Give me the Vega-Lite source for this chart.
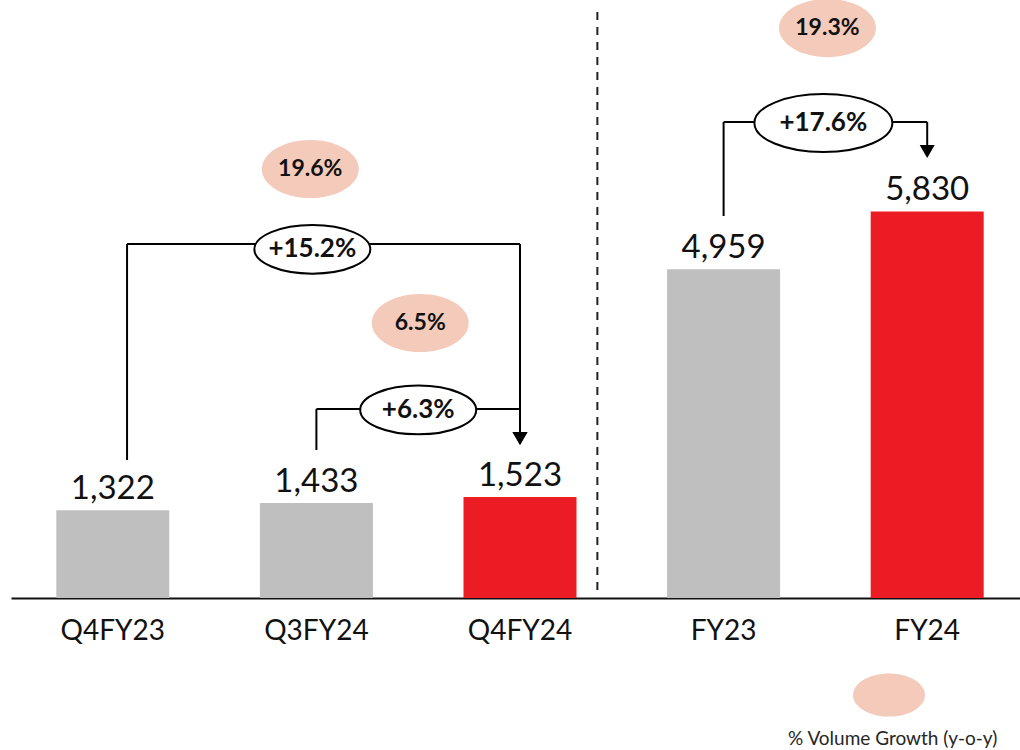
{
  "$schema": "https://vega.github.io/schema/vega-lite/v6.json",
  "autosize": {"type": "none"},
  "padding": {"left": 11, "top": 0, "right": 0, "bottom": 152},
  "width": 1018,
  "height": 598,
  "background": "white",
  "config": {"view": {"stroke": null}},
  "datasets": {
    "volumes": [
      {"period": "Q4FY23", "volume": 1322, "role": "Comparison"},
      {"period": "Q3FY24", "volume": 1433, "role": "Comparison"},
      {"period": "Q4FY24", "volume": 1523, "role": "Current"},
      {"period": "FY23", "volume": 4959, "role": "Comparison"},
      {"period": "FY24", "volume": 5830, "role": "Current"}
    ],
    "brackets": [
      {"bracket": "Q4FY23 to Q4FY24", "x_from": 0.07, "x_to": 2.0, "y_from": 2081, "y_level": 5339, "y_arrow": 2406, "x_label": 0.98, "y_label": 5260, "change": "+15.2%", "scope": "quarter"},
      {"bracket": "Q3FY24 to Q4FY24", "x_from": 1.0, "x_to": 2.0, "y_from": 2232, "y_level": 2851, "y_arrow": 2406, "x_label": 1.5, "y_label": 2836, "change": "+6.3%", "scope": "quarter"},
      {"bracket": "FY23 to FY24", "x_from": 3.0, "x_to": 4.0, "y_from": 5762, "y_level": 7179, "y_arrow": 6735, "x_label": 3.49, "y_label": 7164, "change": "+17.6%", "scope": "annual"}
    ],
    "growth": [
      {"comparison": "Q4FY24 vs Q4FY23", "growth": "19.6%", "x": 0.97, "y": 6471, "series": "% Volume Growth (y-o-y)"},
      {"comparison": "Q4FY24 vs Q3FY24", "growth": "6.5%", "x": 1.51, "y": 4148, "series": "% Volume Growth (y-o-y)"},
      {"comparison": "FY24 vs FY23", "growth": "19.3%", "x": 3.51, "y": 8597, "series": "% Volume Growth (y-o-y)"}
    ],
    "separator": [
      {"x": 2.38, "y": 121, "y2": 8900}
    ]
  },
  "layer": [
    {
      "data": {"name": "volumes"},
      "encoding": {
        "x": {
          "field": "period", "type": "nominal", "sort": null,
          "scale": {"paddingInner": 0.445, "paddingOuter": 0.2225},
          "axis": {"title": null, "ticks": false, "grid": false, "labelAngle": 0, "labelFont": "Lato", "labelFontSize": 28, "labelColor": "#111111", "labelPadding": 19, "domainColor": "#111111", "domainWidth": 2}
        },
        "y": {"field": "volume", "type": "quantitative", "scale": {"domain": [0, 9020], "nice": false, "zero": true}, "axis": null}
      },
      "layer": [
        {
          "mark": {"type": "bar"},
          "encoding": {
            "color": {"field": "role", "type": "nominal", "scale": {"domain": ["Comparison", "Current"], "range": ["#bfbfbf", "#ec1c24"]}, "legend": null}
          }
        },
        {
          "mark": {"type": "text", "baseline": "alphabetic", "dy": -11, "font": "Lato", "fontSize": 33, "color": "#111111"},
          "encoding": {"text": {"field": "volume", "type": "quantitative", "format": ","}}
        }
      ]
    },
    {
      "layer": [
        {
          "data": {"name": "separator"},
          "mark": {"type": "rule", "strokeDash": [8, 7], "strokeWidth": 2, "color": "#222222"},
          "encoding": {
            "x": {"field": "x", "type": "quantitative", "scale": {"domain": [-0.5, 4.5], "nice": false, "zero": false}, "axis": null},
            "y": {"field": "y", "type": "quantitative", "scale": {"domain": [0, 9020], "nice": false, "zero": true}, "axis": null},
            "y2": {"field": "y2"}
          }
        },
        {
          "data": {"name": "brackets"},
          "mark": {"type": "rule", "strokeWidth": 2, "color": "#000000"},
          "encoding": {
            "x": {"field": "x_from", "type": "quantitative", "scale": {"domain": [-0.5, 4.5], "nice": false, "zero": false}, "axis": null},
            "y": {"field": "y_from", "type": "quantitative", "scale": {"domain": [0, 9020], "nice": false, "zero": true}, "axis": null},
            "y2": {"field": "y_level"}
          }
        },
        {
          "data": {"name": "brackets"},
          "mark": {"type": "rule", "strokeWidth": 2, "color": "#000000"},
          "encoding": {
            "x": {"field": "x_from", "type": "quantitative", "scale": {"domain": [-0.5, 4.5], "nice": false, "zero": false}, "axis": null},
            "x2": {"field": "x_to"},
            "y": {"field": "y_level", "type": "quantitative", "scale": {"domain": [0, 9020], "nice": false, "zero": true}, "axis": null}
          }
        },
        {
          "data": {"name": "brackets"},
          "mark": {"type": "rule", "strokeWidth": 2, "color": "#000000"},
          "encoding": {
            "x": {"field": "x_to", "type": "quantitative", "scale": {"domain": [-0.5, 4.5], "nice": false, "zero": false}, "axis": null},
            "y": {"field": "y_level", "type": "quantitative", "scale": {"domain": [0, 9020], "nice": false, "zero": true}, "axis": null},
            "y2": {"field": "y_arrow"}
          }
        },
        {
          "data": {"name": "brackets"},
          "mark": {"type": "point", "shape": "triangle-down", "size": 225, "filled": true, "color": "#000000", "opacity": 1},
          "encoding": {
            "x": {"field": "x_to", "type": "quantitative", "scale": {"domain": [-0.5, 4.5], "nice": false, "zero": false}, "axis": null},
            "y": {"field": "y_arrow", "type": "quantitative", "scale": {"domain": [0, 9020], "nice": false, "zero": true}, "axis": null}
          }
        },
        {
          "data": {"name": "brackets"},
          "mark": {"type": "point", "shape": "M-1,0A1,0.42,0,1,1,1,0A1,0.42,0,1,1,-1,0Z", "filled": false, "fill": "#ffffff", "fillOpacity": 1, "stroke": "#000000", "strokeWidth": 2, "opacity": 1},
          "encoding": {
            "x": {"field": "x_label", "type": "quantitative", "scale": {"domain": [-0.5, 4.5], "nice": false, "zero": false}, "axis": null},
            "y": {"field": "y_label", "type": "quantitative", "scale": {"domain": [0, 9020], "nice": false, "zero": true}, "axis": null},
            "size": {"field": "scope", "type": "nominal", "scale": {"domain": ["quarter", "annual"], "range": [13456, 19044]}, "legend": null}
          }
        },
        {
          "data": {"name": "brackets"},
          "mark": {"type": "text", "baseline": "middle", "font": "Lato", "fontSize": 26, "fontWeight": "bold", "color": "#111111"},
          "encoding": {
            "x": {"field": "x_label", "type": "quantitative", "scale": {"domain": [-0.5, 4.5], "nice": false, "zero": false}, "axis": null},
            "y": {"field": "y_label", "type": "quantitative", "scale": {"domain": [0, 9020], "nice": false, "zero": true}, "axis": null},
            "text": {"field": "change", "type": "nominal"}
          }
        },
        {
          "data": {"name": "growth"},
          "mark": {"type": "point", "shape": "M-1,0A1,0.6,0,1,1,1,0A1,0.6,0,1,1,-1,0Z", "filled": true, "size": 9409, "opacity": 1, "strokeWidth": 0},
          "encoding": {
            "x": {"field": "x", "type": "quantitative", "scale": {"domain": [-0.5, 4.5], "nice": false, "zero": false}, "axis": null},
            "y": {"field": "y", "type": "quantitative", "scale": {"domain": [0, 9020], "nice": false, "zero": true}, "axis": null},
            "fill": {
              "field": "series", "type": "nominal",
              "scale": {"range": ["#f4cabb"]},
              "legend": {
                "orient": "none", "legendX": 777, "legendY": 659, "padding": 0,
                "title": "% Volume Growth (y-o-y)", "titleOrient": "bottom", "titleFont": "Lato", "titleFontSize": 19, "titleFontWeight": "normal", "titleColor": "#262626", "titlePadding": 13, "titleLimit": 400,
                "labelExpr": "''",
                "symbolType": "M-1,0A1,0.6,0,1,1,1,0A1,0.6,0,1,1,-1,0Z", "symbolSize": 5184, "symbolStrokeWidth": 0, "symbolOpacity": 1, "symbolOffset": 65
              }
            }
          }
        },
        {
          "data": {"name": "growth"},
          "mark": {"type": "text", "baseline": "middle", "font": "Lato", "fontSize": 23, "fontWeight": "bold", "color": "#111111"},
          "encoding": {
            "x": {"field": "x", "type": "quantitative", "scale": {"domain": [-0.5, 4.5], "nice": false, "zero": false}, "axis": null},
            "y": {"field": "y", "type": "quantitative", "scale": {"domain": [0, 9020], "nice": false, "zero": true}, "axis": null},
            "text": {"field": "growth", "type": "nominal"}
          }
        }
      ]
    }
  ],
  "resolve": {"scale": {"x": "independent"}}
}
